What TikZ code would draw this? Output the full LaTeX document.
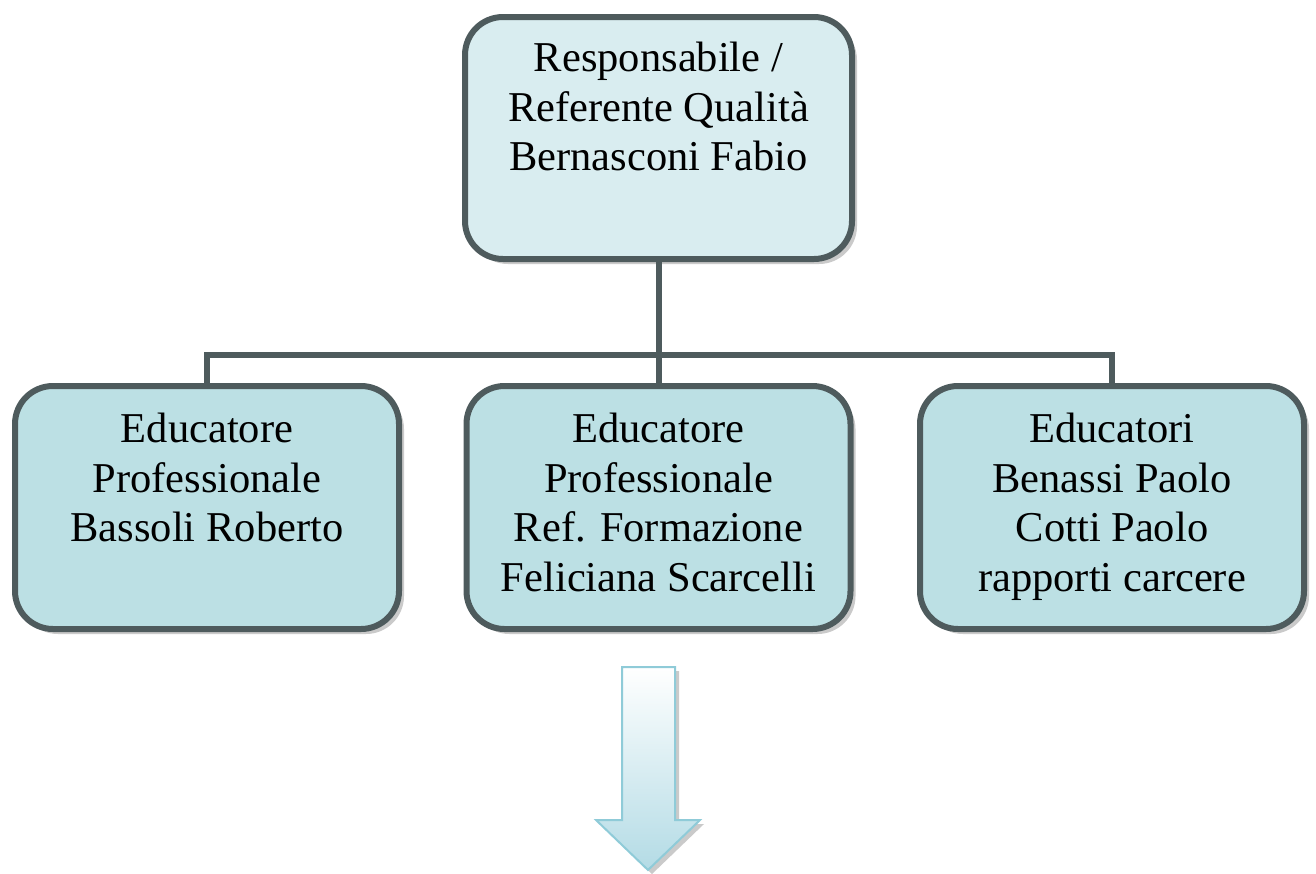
\documentclass[tikz,border=0pt]{standalone}
\usepackage{fontspec}
\setmainfont{Liberation Serif}
\usetikzlibrary{positioning,shadows}

\definecolor{boxline}{RGB}{78,91,93}
\definecolor{topfill}{RGB}{217,237,240}
\definecolor{subfill}{RGB}{188,224,228}
\definecolor{arrline}{RGB}{143,203,216}
\definecolor{arrfill}{RGB}{179,219,229}

\tikzset{
  orgbox/.style={draw=boxline, line width=6pt, rounded corners=38pt,
    minimum width=384pt, minimum height=243pt, inner sep=0pt,
    drop shadow={shadow xshift=5pt, shadow yshift=-5pt, fill=black!35, opacity=0.6}},
  orgtext/.style={anchor=north, align=center, inner sep=0pt,
    font=\fontsize{42.5}{49.5}\selectfont},
  conn/.style={draw=boxline, line width=6pt}
}

\begin{document}
\begin{tikzpicture}[x=1pt,y=-1pt]
\useasboundingbox (0,0) rectangle (1316,873);

% boxes
\node[orgbox, fill=topfill, minimum width=387pt, minimum height=242pt] (resp) at (658.5,138) {};
\node[orgbox, fill=subfill] (bassoli) at (207,507.5) {};
\node[orgbox, fill=subfill] (scarcelli) at (658.5,507.5) {};
\node[orgbox, fill=subfill] (carcere) at (1112,507.5) {};

% texts
\node[orgtext] (resptext) at ([yshift=-28pt]resp.north)
  {Responsabile /\\ Referente Qualità\\Bernasconi Fabio};
\node[orgtext] (bassolitext) at ([yshift=-30pt]bassoli.north)
  {Educatore\\Professionale\\Bassoli Roberto};
\node[orgtext] (scarcellitext) at ([yshift=-30pt]scarcelli.north)
  {Educatore\\Professionale\\Ref. Formazione\\Feliciana Scarcelli};
\node[orgtext] (carceretext) at ([yshift=-30pt]carcere.north)
  {Educatori\\Benassi Paolo\\Cotti Paolo\\rapporti carcere};

% connectors
\coordinate (bus) at (658.5,355);
\draw[conn] (resp.south) -- (scarcelli.north);
\draw[conn] (bassoli.north) |- (bus) -| (carcere.north);

% arrow
\fill[black!35, opacity=0.6] (626,671) -- (679,671) -- (679,824) -- (704,824) -- (652,874) -- (600,824) -- (626,824) -- cycle;
\draw[arrline, line width=2pt, top color=white, bottom color=arrfill]
  (622,667) -- (675,667) -- (675,820) -- (700,820) -- (648,870) -- (596,820) -- (622,820) -- cycle;

\end{tikzpicture}
\end{document}
